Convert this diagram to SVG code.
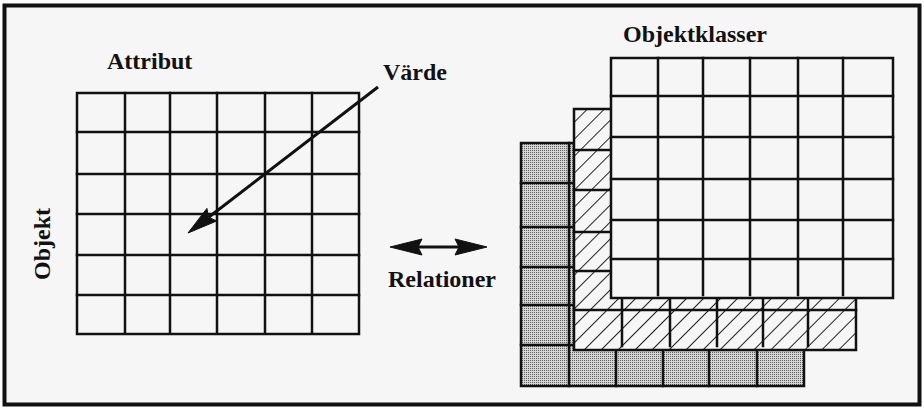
<svg xmlns="http://www.w3.org/2000/svg" width="924" height="408" viewBox="0 0 924 408">
<style>
  .lbl { font-family: "Liberation Serif", "Times New Roman", serif; font-weight: bold; font-size: 24px; fill: #111; }
  .g { stroke: #111; stroke-width: 2.5; fill: none; stroke-linecap: square; }
  .box { stroke: #111; stroke-width: 2.5; fill: #f6f6f6; }
  .edge { stroke: #111; stroke-width: 2.5; }
  .conn { stroke: #111; stroke-width: 3; fill: none; }
  .head { fill: #111; stroke: #111; stroke-width: 1; stroke-linejoin: miter; }
</style>
<defs>
  <pattern id="hatch" width="12" height="12" patternUnits="userSpaceOnUse" patternTransform="rotate(45)">
    <rect width="12" height="12" fill="#f6f6f6"/>
    <line x1="0" y1="0" x2="0" y2="12" stroke="#222" stroke-width="2"/>
  </pattern>
  <pattern id="stipple" width="2" height="2" patternUnits="userSpaceOnUse">
    <rect width="2" height="2" fill="#d6d6d6"/>
    <rect x="0" y="0" width="1" height="1" fill="#5e5e5e"/>
  </pattern>
</defs>

<rect x="0" y="0" width="924" height="408" fill="#ffffff"/>
<rect id="frame" x="4.5" y="5.5" width="915" height="399" fill="#f6f6f6" stroke="#111" stroke-width="4"/>

<g id="attribut-label"><text class="lbl" x="107" y="69">Attribut</text></g>
<g id="varde-label"><text class="lbl" x="383" y="80">Värde</text></g>
<g id="objekt-label"><text class="lbl" text-anchor="middle" transform="translate(50,244) rotate(-90)">Objekt</text></g>
<g id="relationer-label"><text class="lbl" x="388" y="287">Relationer</text></g>
<g id="objektklasser-label"><text class="lbl" x="623" y="42">Objektklasser</text></g>

<g id="table-grid">
  <rect class="box" x="77" y="93" width="282" height="241"/>
  <path class="g" d="M125,93V332 M170,93V332 M217,93V332 M265,93V332 M312,93V332 M77,132H359 M77,174H359 M77,214H359 M77,255H359 M77,295H359"/>
</g>

<g id="class-layer-back">
  <rect class="edge" x="521" y="143" width="283" height="243" fill="url(#stipple)"/>
  <path class="g" d="M569,143V386 M521,183H574 M521,227H574 M521,267H574 M521,305H574 M521,345H574 M616,350V386 M663,350V386 M709,350V386 M757,350V386"/>
</g>

<g id="class-layer-middle">
  <rect class="edge" x="574" y="109" width="282" height="241" fill="url(#hatch)"/>
  <path class="g" d="M574,150H611 M574,190H611 M574,232H611 M574,271H611 M574,310H856 M622,298V346 M670,298V346 M717,298V346 M763,298V346 M808,298V346"/>
</g>

<g id="class-layer-front">
  <rect class="box" x="611" y="58" width="282" height="240"/>
  <path class="g" d="M658,58V295 M703,58V295 M750,58V295 M798,58V295 M843,58V295 M611,96H893 M611,137H893 M611,179H893 M611,220H893 M611,259H893"/>
</g>

<g id="connectors">
  <line class="conn" x1="378" y1="87" x2="209" y2="217"/>
  <polygon class="head" points="188,233 216.7,221.0 208.6,217.2 206.9,208.4"/>
  <line class="conn" x1="416" y1="247" x2="461" y2="247"/>
  <polygon class="head" points="390,247 422,239 418,247 422,255"/>
  <polygon class="head" points="487,247 455,239 459,247 455,255"/>
</g>
</svg>
